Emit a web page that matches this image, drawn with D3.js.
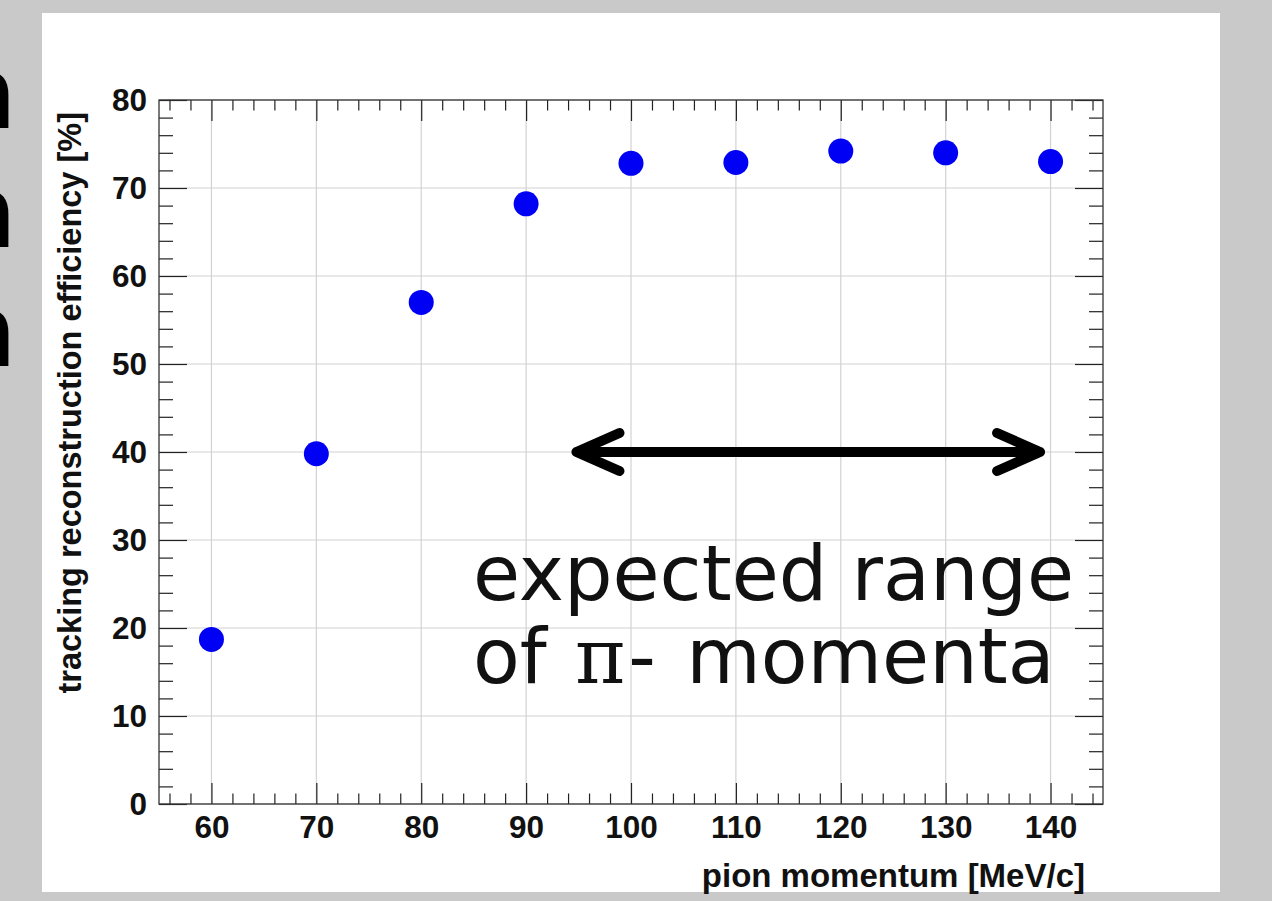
<!DOCTYPE html>
<html>
<head>
<meta charset="utf-8">
<script src="https://cdn.jsdelivr.net/npm/d3@7/dist/d3.min.js"></script>
<style>
  html, body { margin: 0; padding: 0; background: #c9c9c9; }
  svg { display: block; }
  .tick text { font-family: "Liberation Sans", Arial, sans-serif; font-weight: bold; font-size: 31.5px; fill: #111; }
</style>
</head>
<body>
<script>
// ---- data ----
const momenta = [60, 70, 80, 90, 100, 110, 120, 130, 140];
const efficiency = [18.7, 39.8, 57.0, 68.2, 72.8, 72.9, 74.2, 74.0, 73.0];
const xMajorTicks = [60, 70, 80, 90, 100, 110, 120, 130, 140];
const xMinorTicks = [56, 58, 62, 64, 66, 68, 72, 74, 76, 78, 82, 84, 86, 88, 92, 94, 96, 98, 102, 104, 106, 108, 112, 114, 116, 118, 122, 124, 126, 128, 132, 134, 136, 138, 142, 144];
const yMajorTicks = [0, 10, 20, 30, 40, 50, 60, 70, 80];
const yMinorTicks = [2, 4, 6, 8, 12, 14, 16, 18, 22, 24, 26, 28, 32, 34, 36, 38, 42, 44, 46, 48, 52, 54, 56, 58, 62, 64, 66, 68, 72, 74, 76, 78];
const xDomain = [55, 145];
const yDomain = [0, 80];
const arrowRange = [94.8, 139.0];
const arrowLevel = 40;
const xTitle = "pion momentum [MeV/c]";
const yTitle = "tracking reconstruction efficiency [%]";
const sideGlyphs = ["n", "n", "n"];

// ---- layout ----
const W = 1272, H = 901;
const plot = { left: 159, right: 1103, top: 100, bottom: 804 };

const svg = d3.select("body").append("svg").attr("width", W).attr("height", H);
svg.append("rect").attr("width", W).attr("height", H).attr("fill", "#c9c9c9");

// cut-off glyphs of slide text at left edge
const glyphBase = [128, 247, 366];
svg.selectAll("text.side").data(sideGlyphs).join("text")
  .attr("class", "side")
  .attr("x", 17).attr("y", (d, i) => glyphBase[i])
  .attr("text-anchor", "end")
  .attr("font-family", "DejaVu Sans")
  .attr("font-size", 100)
  .attr("fill", "#000")
  .text(d => d);

// white panel
svg.append("rect").attr("x", 42).attr("y", 13).attr("width", 1178).attr("height", 879).attr("fill", "#ffffff");

const x = d3.scaleLinear().domain(xDomain).range([plot.left, plot.right]);
const y = d3.scaleLinear().domain(yDomain).range([plot.bottom, plot.top]);

// grid
const grid = svg.append("g").attr("stroke", "#d2d2d2").attr("stroke-width", 1.2);
grid.selectAll("line.gx").data(xMajorTicks).join("line")
  .attr("x1", d => x(d)).attr("x2", d => x(d))
  .attr("y1", plot.top).attr("y2", plot.bottom);
grid.selectAll("line.gy").data(yMajorTicks).join("line")
  .attr("y1", d => y(d)).attr("y2", d => y(d))
  .attr("x1", plot.left).attr("x2", plot.right);

const xTickLen = 21, yTickLen = 28;

function styleAxis(g) {
  g.select(".domain").remove();
  g.selectAll(".tick line").attr("stroke", "#222").attr("stroke-width", 1.2);
}

// bottom axis
svg.append("g").attr("transform", `translate(0,${plot.bottom})`)
  .call(d3.axisBottom(x).tickValues(xMajorTicks).tickSize(-xTickLen).tickPadding(12).tickFormat(d3.format("d")))
  .call(styleAxis)
  .call(g => g.selectAll(".tick text").attr("font-family", null).attr("font-size", null));
svg.append("g").attr("transform", `translate(0,${plot.bottom})`)
  .call(d3.axisBottom(x).tickValues(xMinorTicks).tickSize(-xTickLen / 2).tickFormat(""))
  .call(styleAxis);
// top axis
svg.append("g").attr("transform", `translate(0,${plot.top})`)
  .call(d3.axisTop(x).tickValues(xMajorTicks).tickSize(-xTickLen).tickFormat(""))
  .call(styleAxis);
svg.append("g").attr("transform", `translate(0,${plot.top})`)
  .call(d3.axisTop(x).tickValues(xMinorTicks).tickSize(-xTickLen / 2).tickFormat(""))
  .call(styleAxis);
// left axis
svg.append("g").attr("transform", `translate(${plot.left},0)`)
  .call(d3.axisLeft(y).tickValues(yMajorTicks).tickSize(-yTickLen).tickPadding(12).tickFormat(d3.format("d")))
  .call(styleAxis)
  .call(g => g.selectAll(".tick text").attr("font-family", null).attr("font-size", null));
svg.append("g").attr("transform", `translate(${plot.left},0)`)
  .call(d3.axisLeft(y).tickValues(yMinorTicks).tickSize(-yTickLen / 2).tickFormat(""))
  .call(styleAxis);
// right axis
svg.append("g").attr("transform", `translate(${plot.right},0)`)
  .call(d3.axisRight(y).tickValues(yMajorTicks).tickSize(-yTickLen).tickFormat(""))
  .call(styleAxis);
svg.append("g").attr("transform", `translate(${plot.right},0)`)
  .call(d3.axisRight(y).tickValues(yMinorTicks).tickSize(-yTickLen / 2).tickFormat(""))
  .call(styleAxis);

// frame
svg.append("rect")
  .attr("x", plot.left).attr("y", plot.top)
  .attr("width", plot.right - plot.left).attr("height", plot.bottom - plot.top)
  .attr("fill", "none").attr("stroke", "#333").attr("stroke-width", 1.3);

// points
svg.append("g").selectAll("circle").data(momenta).join("circle")
  .attr("cx", d => x(d))
  .attr("cy", (d, i) => y(efficiency[i]))
  .attr("r", 12.5)
  .attr("fill", "#0000f5");

// arrow
const ax0 = x(arrowRange[0]), ax1 = x(arrowRange[1]), ay = y(arrowLevel);
const headDx = 43, headDy = 19;
const arrowPath = d3.path();
arrowPath.moveTo(ax0, ay); arrowPath.lineTo(ax1, ay);
arrowPath.moveTo(ax0 + headDx, ay - headDy); arrowPath.lineTo(ax0, ay); arrowPath.lineTo(ax0 + headDx, ay + headDy);
arrowPath.moveTo(ax1 - headDx, ay - headDy); arrowPath.lineTo(ax1, ay); arrowPath.lineTo(ax1 - headDx, ay + headDy);
svg.append("path").attr("d", arrowPath.toString())
  .attr("fill", "none").attr("stroke", "#000").attr("stroke-width", 10)
  .attr("stroke-linecap", "round").attr("stroke-linejoin", "round");

// annotation text
svg.append("text")
  .attr("x", 473).attr("y", 600)
  .attr("font-family", "DejaVu Sans").attr("font-size", 76.5).attr("fill", "#111")
  .text("expected range");
const note2 = svg.append("text")
  .attr("x", 473).attr("y", 683)
  .attr("font-family", "DejaVu Sans").attr("font-size", 76.5).attr("fill", "#111");
note2.append("tspan").text("of ");
note2.append("tspan").attr("font-family", "DejaVu Serif").attr("dx", 4).text("π");
note2.append("tspan").attr("dx", 3).text("-");
note2.append("tspan").attr("dx", 6).text(" momenta");

// axis titles
svg.append("text")
  .attr("x", 1085).attr("y", 887)
  .attr("text-anchor", "end")
  .attr("font-family", "Liberation Sans, Arial, sans-serif")
  .attr("font-weight", "bold").attr("font-size", 33).attr("fill", "#111")
  .text(xTitle);
svg.append("text")
  .attr("transform", "translate(81,112) rotate(-90)")
  .attr("text-anchor", "end")
  .attr("font-family", "Liberation Sans, Arial, sans-serif")
  .attr("font-weight", "bold").attr("font-size", 32.5).attr("fill", "#111")
  .text(yTitle);
</script>
</body>
</html>
